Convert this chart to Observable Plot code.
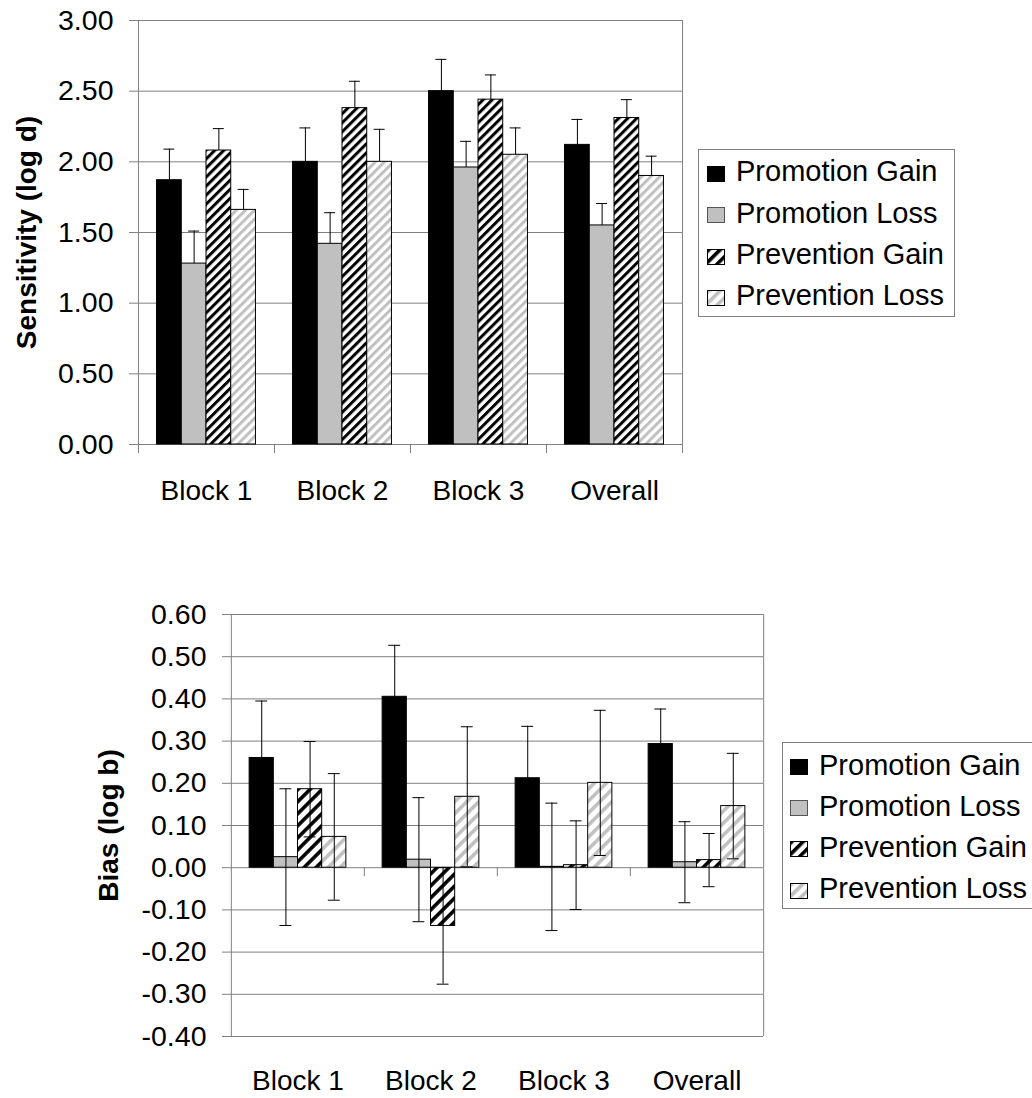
<!DOCTYPE html>
<html>
<head>
<meta charset="utf-8">
<script src="https://cdn.jsdelivr.net/npm/d3@7"></script>
<script src="https://cdn.jsdelivr.net/npm/@observablehq/plot@0.6"></script>
<style>
html, body { margin: 0; padding: 0; background: #fff; overflow: hidden; }
#root { position: relative; width: 1032px; height: 1098px; font-family: "Liberation Sans", Arial, sans-serif; color: #000; }
.chart { position: absolute; left: 0; }
.legend { position: absolute; box-sizing: border-box; border: 1px solid #808080; background: #fff; }
.legend .lab { position: absolute; font-size: 29px; line-height: 29px; white-space: nowrap; }
.legend svg { position: absolute; }
</style>
</head>
<body>
<div id="root"></div>
<script>
// ---------- data ----------
const categories = ["Block 1", "Block 2", "Block 3", "Overall"];
const series = ["Promotion Gain", "Promotion Loss", "Prevention Gain", "Prevention Loss"];

// Sensitivity (log d): values by category, one array per series
const sensPromotionGain  = [1.87, 2.00, 2.50, 2.12];
const sensPromotionLoss  = [1.28, 1.42, 1.96, 1.55];
const sensPreventionGain = [2.08, 2.38, 2.44, 2.31];
const sensPreventionLoss = [1.66, 2.00, 2.05, 1.90];
// Sensitivity error bar sizes
const sensErrPromotionGain  = [0.22, 0.24, 0.225, 0.18];
const sensErrPromotionLoss  = [0.23, 0.22, 0.185, 0.155];
const sensErrPreventionGain = [0.155, 0.19, 0.175, 0.13];
const sensErrPreventionLoss = [0.145, 0.23, 0.19, 0.14];

// Bias (log b)
const biasPromotionGain  = [0.26, 0.405, 0.212, 0.293];
const biasPromotionLoss  = [0.025, 0.019, 0.002, 0.013];
const biasPreventionGain = [0.186, -0.138, 0.006, 0.018];
const biasPreventionLoss = [0.073, 0.168, 0.201, 0.146];
// Bias error bar sizes
const biasErrPromotionGain  = [0.135, 0.122, 0.123, 0.083];
const biasErrPromotionLoss  = [0.162, 0.147, 0.151, 0.096];
const biasErrPreventionGain = [0.113, 0.138, 0.105, 0.063];
const biasErrPreventionLoss = [0.15, 0.166, 0.172, 0.125];

// tick labels
const sensTicks = [0, 0.5, 1, 1.5, 2, 2.5, 3];
const biasTicks = [-0.4, -0.3, -0.2, -0.1, 0, 0.1, 0.2, 0.3, 0.4, 0.5, 0.6];

// ---------- helpers ----------
function buildRows(valueArrays, errorArrays) {
  const rows = [];
  series.forEach((s, si) => categories.forEach((c, ci) => {
    rows.push({cat: c, series: s, value: valueArrays[si][ci], err: errorArrays[si][ci]});
  }));
  return rows;
}

const PAD_OUTER = 0.75;
const GRID = "#808080";
const FONT = "Liberation Sans, Arial, sans-serif";

function patternDefs(ids, period, stripeW) {
  const mk = (id, color) =>
    `<pattern id="${id}" patternUnits="userSpaceOnUse" width="${period}" height="${period}" patternTransform="rotate(45)">` +
    `<rect width="${period}" height="${period}" fill="#fff"/>` +
    `<rect width="${stripeW}" height="${period}" fill="${color}"/></pattern>`;
  return mk(ids[0], "#000") + mk(ids[1], "#c0c0c0");
}

function chart(o) {
  const facetW = (o.width - o.marginLeft - o.marginRight) / categories.length;
  const step = facetW / (series.length + 2 * PAD_OUTER);
  const edge = (PAD_OUTER + 0.5) * step;
  const capInset = (step - o.capWidth) / 2;
  const fills = ["#000000", "#c0c0c0", `url(#${o.patternIds[0]})`, `url(#${o.patternIds[1]})`];
  const lo = d => o.bidirectional ? d.value - d.err : d.value;
  const hi = d => d.value + d.err;
  const last = categories[categories.length - 1];
  const marks = [
    Plot.gridY(o.yTicks, {stroke: GRID, strokeOpacity: 1}),
    Plot.barY(o.rows, {fx: "cat", x: "series", y: "value", fill: "series", stroke: "#000", strokeWidth: 1}),
    Plot.ruleX(o.rows, {fx: "cat", x: "series", y1: lo, y2: hi, stroke: "#000", strokeWidth: 1}),
    Plot.tickY(o.rows, {fx: "cat", x: "series", y: hi, insetLeft: capInset, insetRight: capInset, stroke: "#000", strokeWidth: 1})
  ];
  if (o.bidirectional) {
    marks.push(Plot.tickY(o.rows, {fx: "cat", x: "series", y: lo, insetLeft: capInset, insetRight: capInset, stroke: "#000", strokeWidth: 1}));
  }
  marks.push(
    // left axis line
    Plot.ruleX([categories[0]], {fx: d => d, x: () => series[0], dx: -edge, y1: o.yDomain[1], y2: o.yDomain[0], insetBottom: -o.outerExt, stroke: GRID}),
    // category separator ticks
    Plot.ruleX(categories.slice(1), {fx: d => d, x: () => series[0], dx: -edge, y1: o.catAxisAt, y2: o.catAxisAt, insetBottom: -9, stroke: GRID}),
    // right border
    Plot.ruleX([last], {fx: d => d, x: () => series[series.length - 1], dx: edge, y1: o.yDomain[1], y2: o.yDomain[0], insetBottom: -o.outerExt, stroke: GRID}),
    Plot.axisY({ticks: o.yTicks, tickFormat: d => d.toFixed(2), tickSize: 9, tickPadding: 16, stroke: GRID, fontSize: 28.5, label: null}),
    Plot.axisFx({anchor: "bottom", tickSize: 0, tickPadding: o.labelPadding, fontSize: 28, label: null}),
    Plot.text([o.yLabel], {fx: () => categories[0], frameAnchor: "left", textAnchor: "middle", rotate: -90, dx: o.titleDx, fontSize: 28, fontWeight: "bold", fill: "#000"})
  );
  const svg = Plot.plot({
    width: o.width, height: o.height,
    marginLeft: o.marginLeft, marginRight: o.marginRight, marginTop: o.marginTop, marginBottom: o.marginBottom,
    style: {fontFamily: FONT, fontSize: "28px", background: "transparent", overflow: "visible", color: "#000"},
    fx: {domain: categories, padding: 0, label: null},
    x: {domain: series, paddingInner: 0, paddingOuter: PAD_OUTER, round: false, axis: null},
    y: {domain: o.yDomain, axis: null},
    color: {domain: series, range: fills},
    marks
  });
  const defs = document.createElementNS("http://www.w3.org/2000/svg", "defs");
  defs.innerHTML = patternDefs(o.patternIds, o.period, o.stripeW);
  svg.insertBefore(defs, svg.firstChild);
  svg.classList.add("chart");
  svg.style.top = o.top + "px";
  return svg;
}

function swatch(kind, id, w, h) {
  let defs = "", fill;
  if (kind === 0) fill = "#000";
  else if (kind === 1) fill = "#c0c0c0";
  else {
    const c = kind === 2 ? "#000" : "#c0c0c0";
    defs = `<defs><pattern id="${id}" patternUnits="userSpaceOnUse" width="8" height="8" patternTransform="rotate(45)">` +
      `<rect width="8" height="8" fill="#fff"/><rect width="3.6" height="8" fill="${c}"/></pattern></defs>`;
    fill = `url(#${id})`;
  }
  return `<svg width="${w}" height="${h}" viewBox="0 0 ${w} ${h}">${defs}` +
    `<rect x="0.5" y="0.5" width="${w - 1}" height="${h - 1}" fill="${fill}" stroke="${kind === 1 ? '#555' : '#000'}" stroke-width="1"/></svg>`;
}

function legend(o) {
  const box = document.createElement("div");
  box.className = "legend";
  Object.assign(box.style, {left: o.left + "px", top: o.top + "px", width: o.width + "px", height: o.height + "px"});
  let html = "";
  series.forEach((s, i) => {
    const base = o.firstBaseline + o.pitch * i;
    html += `<div style="position:absolute;left:${o.swatchLeft}px;top:${base - 16}px;width:18px;height:16px">${swatch(i, o.prefix + i, 18, 16)}</div>`;
    html += `<div class="lab" style="left:${o.textLeft}px;top:${base - 24.5}px">${s}</div>`;
  });
  box.innerHTML = html;
  return box;
}

// ---------- build ----------
const root = document.getElementById("root");

root.appendChild(chart({
  rows: buildRows(
    [sensPromotionGain, sensPromotionLoss, sensPreventionGain, sensPreventionLoss],
    [sensErrPromotionGain, sensErrPromotionLoss, sensErrPreventionGain, sensErrPreventionLoss]),
  yDomain: [0, 3], yTicks: sensTicks, yLabel: "Sensitivity (log d)",
  width: 700, height: 510, marginLeft: 137, marginRight: 18, marginTop: 20, marginBottom: 66, top: 0,
  patternIds: ["pgTop", "plTop"], period: 6.4, stripeW: 3,
  bidirectional: false, capWidth: 11, labelPadding: 36, titleDx: -111,
  catAxisAt: 0, outerExt: 9
}));

root.appendChild(chart({
  rows: buildRows(
    [biasPromotionGain, biasPromotionLoss, biasPreventionGain, biasPreventionLoss],
    [biasErrPromotionGain, biasErrPromotionLoss, biasErrPreventionGain, biasErrPreventionLoss]),
  yDomain: [-0.4, 0.6], yTicks: biasTicks, yLabel: "Bias (log b)",
  width: 780, height: 508, marginLeft: 229, marginRight: 16, marginTop: 24, marginBottom: 62, top: 590,
  patternIds: ["pgBot", "plBot"], period: 8.5, stripeW: 3.6,
  bidirectional: true, capWidth: 12, labelPadding: 34, titleDx: -122,
  catAxisAt: 0, outerExt: 0
}));

root.appendChild(legend({left: 698, top: 149, width: 257, height: 168, swatchLeft: 8, textLeft: 37, firstBaseline: 31.7, pitch: 41.4, prefix: "lgA"}));
root.appendChild(legend({left: 782, top: 742, width: 300, height: 167, swatchLeft: 7, textLeft: 36, firstBaseline: 32, pitch: 41.2, prefix: "lgB"}));
</script>
</body>
</html>
